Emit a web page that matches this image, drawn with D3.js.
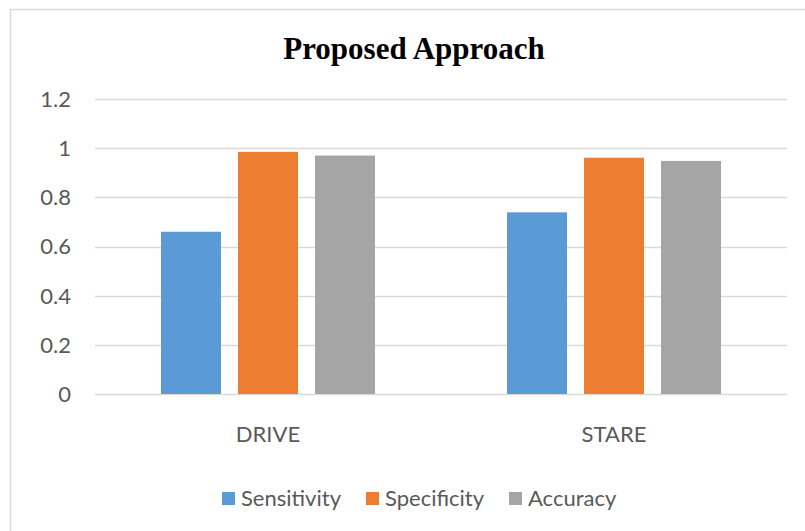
<!DOCTYPE html>
<html>
<head>
<meta charset="utf-8">
<script src="https://cdn.jsdelivr.net/npm/d3@7"></script>
<style>
  body { margin: 0; background: #fff; }
</style>
</head>
<body>
<div id="chart"></div>
<script>
// Chart data
const categories = ["DRIVE", "STARE"];
const seriesNames = ["Sensitivity", "Specificity", "Accuracy"];
const sensitivity = [0.66, 0.739];
const specificity = [0.985, 0.961];
const accuracy = [0.970, 0.948];
const yTicks = [0, 0.2, 0.4, 0.6, 0.8, 1, 1.2];
const colors = ["#5b9bd5", "#ed7d31", "#a5a5a5"];

const seriesValues = [sensitivity, specificity, accuracy];

const width = 805;
const height = 531;
const font = "Lato, 'Open Sans', sans-serif";

const svg = d3.select("#chart").append("svg")
    .attr("width", width)
    .attr("height", height);

// chart frame (right/bottom edges fall outside the picture)
svg.append("rect")
    .attr("x", 10.5).attr("y", 9.5)
    .attr("width", 820).attr("height", 540)
    .attr("fill", "#fff")
    .attr("stroke", "#d9d9d9")
    .attr("stroke-width", 1.5);

// Scales
const x0 = d3.scaleBand().domain(categories).range([95, 787]);
const x1 = d3.scaleBand().domain(seriesNames)
    .range([66, x0.bandwidth() - 66])
    .paddingInner(0.221);
const y = d3.scaleLinear().domain([0, 1.2]).range([394, 99]);

// Gridlines
svg.append("g")
    .selectAll("line")
    .data(yTicks)
    .enter().append("line")
    .attr("x1", 95).attr("x2", 787)
    .attr("y1", d => Math.round(y(d)) + 0.5)
    .attr("y2", d => Math.round(y(d)) + 0.5)
    .attr("stroke", "#d9d9d9")
    .attr("stroke-width", 1.3);

// Y tick labels
svg.append("g")
    .selectAll("text")
    .data(yTicks)
    .enter().append("text")
    .attr("x", 71)
    .attr("y", d => y(d))
    .attr("dy", "0.36em")
    .attr("text-anchor", "end")
    .attr("font-family", font)
    .attr("font-size", 22)
    .attr("fill", "#595959")
    .text(d => d3.format("")(d));

// Bars
const groups = svg.append("g")
    .selectAll("g")
    .data(categories)
    .enter().append("g")
    .attr("transform", d => `translate(${x0(d)},0)`);

groups.selectAll("rect")
    .data((c, i) => seriesNames.map((s, j) => ({ s, j, v: seriesValues[j][i] })))
    .enter().append("rect")
    .attr("x", d => x1(d.s))
    .attr("y", d => y(d.v))
    .attr("width", x1.bandwidth())
    .attr("height", d => y(0) - y(d.v))
    .attr("fill", d => colors[d.j]);

// X labels
svg.append("g")
    .selectAll("text")
    .data(categories)
    .enter().append("text")
    .attr("x", d => x0(d) + x0.bandwidth() / 2)
    .attr("y", 442)
    .attr("text-anchor", "middle")
    .attr("font-family", font)
    .attr("font-size", 22)
    .attr("fill", "#595959")
    .text(d => d);

// Title
svg.append("text")
    .attr("x", 414)
    .attr("y", 59)
    .attr("text-anchor", "middle")
    .attr("font-family", "'Liberation Serif', 'Times New Roman', serif")
    .attr("font-weight", "bold")
    .attr("font-size", 31)
    .attr("fill", "#000")
    .text("Proposed Approach");

// Legend
const legendX = [222, 366, 509];
const legend = svg.append("g")
    .selectAll("g")
    .data(seriesNames)
    .enter().append("g")
    .attr("transform", (d, i) => `translate(${legendX[i]},0)`);

legend.append("rect")
    .attr("x", 0).attr("y", 492)
    .attr("width", 13).attr("height", 13)
    .attr("fill", (d, i) => colors[i]);

legend.append("text")
    .attr("x", 19)
    .attr("y", 506)
    .attr("font-family", font)
    .attr("font-size", 22)
    .attr("fill", "#595959")
    .text(d => d);
</script>
</body>
</html>
